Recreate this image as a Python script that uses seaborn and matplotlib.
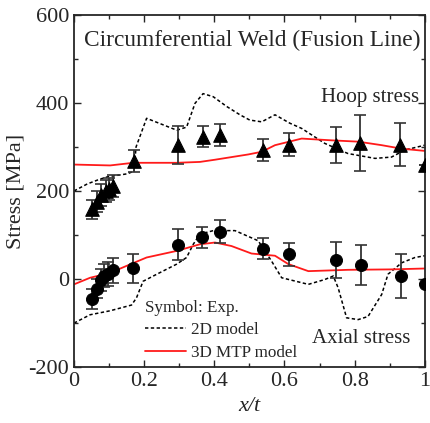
import numpy as np
import pandas as pd
import matplotlib
matplotlib.use("Agg")
import matplotlib.pyplot as plt
import seaborn as sns
from matplotlib.ticker import MultipleLocator

# ---- data ----
hoop_x = [0.051, 0.065, 0.078, 0.09, 0.10, 0.112, 0.171, 0.296, 0.367, 0.416, 0.539, 0.612, 0.747, 0.816, 0.929, 1.0]
hoop_y = [158, 176, 190, 201, 205, 212, 267, 305, 323, 326, 292, 305, 305, 309, 305, 258]
hoop_err = [22, 24, 25, 25, 25, 25, 25, 43, 24, 25, 25, 26, 41, 64, 49, 0]

axial_x = [0.052, 0.065, 0.076, 0.087, 0.097, 0.112, 0.169, 0.297, 0.366, 0.416, 0.539, 0.613, 0.748, 0.817, 0.932, 1.0]
axial_y = [-45, -22, -3, 8, 12, 20, 25, 78, 95, 108, 69, 56, 44, 32, 7, -12]
axial_err = [22, 22, 25, 26, 27, 28, 33, 35, 24, 25, 24, 26, 41, 45, 49, 0]

hoop2d_x = [0.0, 0.038, 0.071, 0.095, 0.152, 0.171, 0.177, 0.207, 0.293, 0.321, 0.345, 0.368, 0.397, 0.435, 0.473, 0.501, 0.535, 0.573, 0.615, 0.649, 0.715, 0.781, 0.858, 0.905, 0.943, 1.0]
hoop2d_y = [200, 216, 226, 232, 239, 245, 300, 365, 338, 345, 399, 421, 414, 392, 373, 361, 357, 373, 354, 342, 308, 285, 274, 277, 293, 304]

axial2d_x = [0.0, 0.046, 0.103, 0.164, 0.178, 0.197, 0.236, 0.293, 0.321, 0.34, 0.359, 0.397, 0.459, 0.525, 0.563, 0.592, 0.668, 0.715, 0.739, 0.753, 0.777, 0.81, 0.838, 0.877, 0.895, 0.934, 0.972, 1.0]
axial2d_y = [-100, -81, -72, -59, -43, -5, 11, 34, 49, 79, 102, 110, 110, 87, 41, 3, -12, -1, 7, -20, -88, -92, -85, -35, 11, 37, 49, 53]

hoop3d_x = [0.0, 0.103, 0.169, 0.293, 0.359, 0.402, 0.497, 0.535, 0.573, 0.649, 0.734, 0.81, 0.877, 0.934, 1.0]
hoop3d_y = [260, 258, 264, 264, 266, 271, 283, 289, 304, 319, 315, 312, 304, 296, 291]

axial3d_x = [0.0, 0.046, 0.103, 0.15, 0.207, 0.293, 0.359, 0.402, 0.449, 0.506, 0.573, 0.611, 0.668, 0.781, 0.905, 1.0]
axial3d_y = [-12, 3, 14, 30, 49, 64, 79, 83, 75, 58, 53, 34, 18, 21, 22, 24]

sns.set_style("ticks")
plt.rcParams['font.family'] = ['Liberation Serif', 'DejaVu Serif']
plt.rcParams['mathtext.fontset'] = 'stix'

fig = plt.figure(figsize=(4.30, 4.23), dpi=100)
ax = fig.add_axes([0.172, 0.132, 0.816, 0.833])

dash = (0, (2.2, 1.6))
l2d, = ax.plot([], [], color='black', lw=1.1, linestyle=dash)
sns.lineplot(x=hoop2d_x, y=hoop2d_y, ax=ax, color='black', lw=1.1, linestyle=dash, sort=False)
sns.lineplot(x=axial2d_x, y=axial2d_y, ax=ax, color='black', lw=1.1, linestyle=dash, sort=False)
l3d, = ax.plot([], [], color='#ff1a1a', lw=1.3)
sns.lineplot(x=hoop3d_x, y=hoop3d_y, ax=ax, color='#ff1a1a', lw=1.3, sort=False)
sns.lineplot(x=axial3d_x, y=axial3d_y, ax=ax, color='#ff1a1a', lw=1.3, sort=False)

ax.errorbar(hoop_x, hoop_y, yerr=hoop_err, fmt='none', ecolor='#333333', elinewidth=1.3, capsize=4, capthick=1.2, zorder=4)
ax.errorbar(axial_x, axial_y, yerr=axial_err, fmt='none', ecolor='#333333', elinewidth=1.3, capsize=4, capthick=1.2, zorder=4)
sns.scatterplot(x=hoop_x, y=hoop_y, ax=ax, marker='^', s=95, color='black', edgecolor='black', zorder=5, clip_on=True)
sns.scatterplot(x=axial_x, y=axial_y, ax=ax, marker='o', s=75, color='black', edgecolor='black', zorder=5)

ax.set_xlim(0, 1)
ax.set_ylim(-200, 600)
ax.xaxis.set_major_locator(MultipleLocator(0.2))
ax.xaxis.set_minor_locator(MultipleLocator(0.1))
ax.yaxis.set_major_locator(MultipleLocator(200))
ax.yaxis.set_minor_locator(MultipleLocator(100))
ax.set_xticks([0, 0.2, 0.4, 0.6, 0.8, 1.0])
ax.set_xticklabels(['0', '0.2', '0.4', '0.6', '0.8', '1'])
ax.set_yticks([-200, 0, 200, 400, 600])
ax.set_yticklabels(['-200', '0', '200', '400', '600'])
ax.tick_params(which='both', direction='in', top=True, right=True, labelsize=16, width=1.0)
ax.tick_params(which='major', length=5)
ax.tick_params(which='minor', length=3)
for s in ax.spines.values():
    s.set_linewidth(1.3)

ax.set_xlabel('x/t', fontsize=16, fontstyle='italic', labelpad=4)
ax.set_ylabel('Stress [MPa]', fontsize=16, labelpad=2)

ax.text(0.03, 0.958, 'Circumferential Weld (Fusion Line)', transform=ax.transAxes, fontsize=16.8, va='top', ha='left')
ax.text(0.985, 0.765, 'Hoop stress', transform=ax.transAxes, fontsize=15, va='center', ha='right')
ax.text(0.96, 0.08, 'Axial stress', transform=ax.transAxes, fontsize=15, va='center', ha='right')

leg = ax.legend([l2d, l3d], ['2D model', '3D MTP model'], title='Symbol: Exp.', loc='lower left',
                bbox_to_anchor=(0.163, -0.022), frameon=False, fontsize=12.3, title_fontsize=12.3,
                alignment='left', handlelength=2.4, handletextpad=0.3, labelspacing=0.4, borderpad=0.3)

fig.savefig('out.png', dpi=100)
